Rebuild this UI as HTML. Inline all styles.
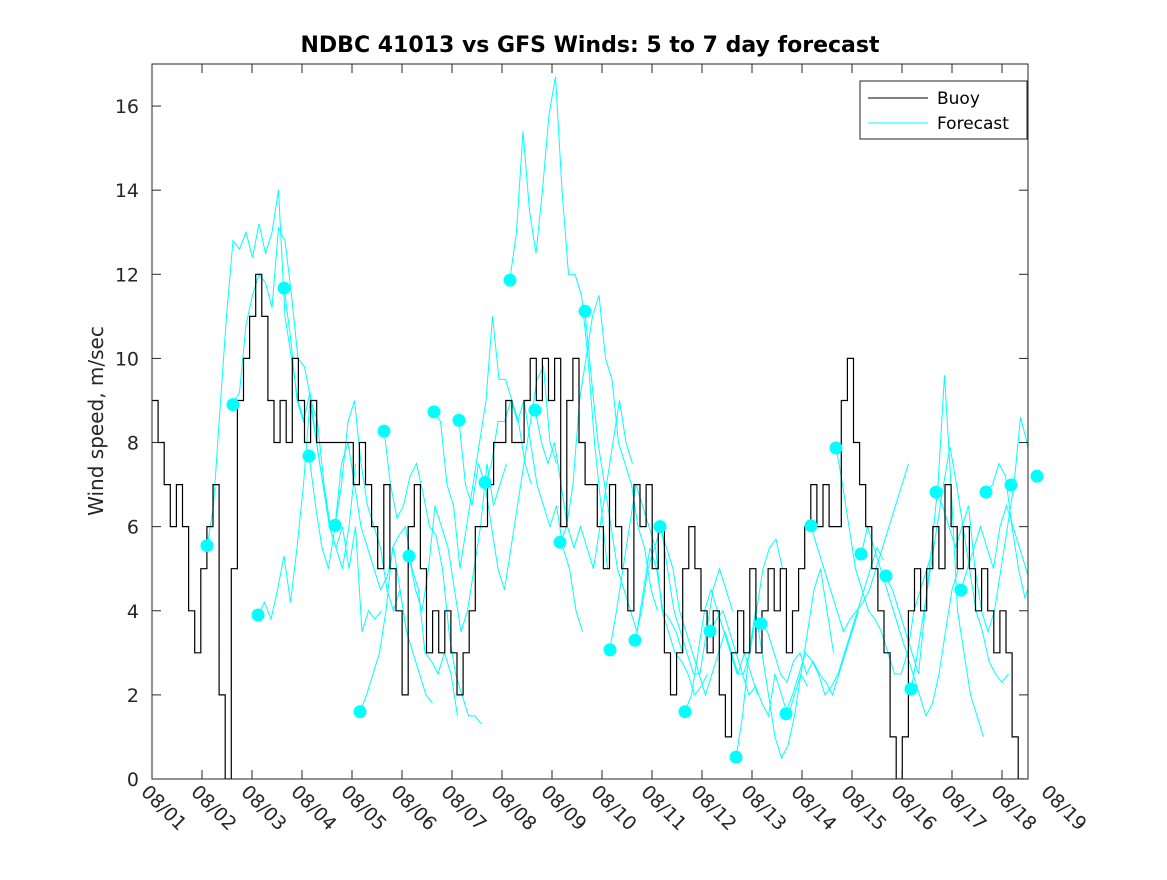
<!DOCTYPE html>
<html><head><meta charset="utf-8"><style>
body{margin:0;background:#fff;}
svg text{font-family:"DejaVu Sans","Liberation Sans",sans-serif;}
</style></head><body>
<svg id="chart" width="1167" height="875" xmlns="http://www.w3.org/2000/svg">
<rect width="1167" height="875" fill="#fff"/>
<defs><clipPath id="pc"><rect x="152" y="64" width="876" height="715"/></clipPath></defs>
<text x="590" y="52" text-anchor="middle" font-size="22" font-weight="bold" fill="#000">NDBC 41013 vs GFS Winds: 5 to 7 day forecast</text>
<text transform="translate(103,421) rotate(-90)" text-anchor="middle" font-size="20" fill="#262626">Wind speed, m/sec</text>
<g id="series" clip-path="url(#pc)"></g>
<g id="dots"></g>
<rect x="152" y="64" width="876" height="715" fill="none" stroke="#262626" stroke-width="1"/>
<g id="axes"></g>
<g>
<rect x="860" y="81" width="167" height="58" fill="#fff" stroke="#262626"/>
<line x1="868" y1="98" x2="928" y2="98" stroke="#000"/>
<text x="937" y="104" font-size="17" fill="#000">Buoy</text>
<line x1="868" y1="123" x2="928" y2="123" stroke="#00ffff"/>
<text x="937" y="129" font-size="17" fill="#000">Forecast</text>
</g>
</svg>
<script>
const xLabels=["08/01","08/02","08/03","08/04","08/05","08/06","08/07","08/08","08/09","08/10","08/11","08/12","08/13","08/14","08/15","08/16","08/17","08/18","08/19"];
const yTicks=[0,2,4,6,8,10,12,14,16];
const buoyStep=0.122;
const buoy=[9,8,7,6,7,6,4,3, 5,6,7,2,0,5,9,10, 11,12,11,9,8,9,8,10, 9,8,9,8,8,8,8,8, 8,7,8,7,6,5,7,5, 4,2,6,7,5,3,4,3, 4,3,2,3,4,6,6,7, 8,8,9,8,8,9,10,9, 10,9,10,6,9,10,8,7, 7,6,5,7,6,5,4,7, 6,7,5,6,3,2,3,5, 6,5,4,3,4,2,1,3, 4,3,5,3,4,5,4,5, 3,4,5,6,7,6,7,6, 6,9,10,8,7,6,5,4, 3,1,0,1,4,5,4,5, 6,5,7,6,5,6,5,4, 5,4,3,4,3,1,0];
const dotDays=[1.1,1.62,2.12,2.64,3.14,3.66,4.16,4.64,5.14,5.64,6.14,6.66,7.16,7.66,8.16,8.66,9.16,9.66,10.16,10.66,11.16,11.68,12.18,12.68,13.18,13.68,14.18,14.68,15.18,15.68,16.18,16.68,17.18,17.7];
const dotVals=[5.55,8.9,3.9,11.67,7.68,6.03,1.6,8.27,5.3,8.73,8.53,7.05,11.86,8.77,5.63,11.12,3.07,3.3,6.0,1.6,3.52,0.52,3.69,1.55,6.02,7.87,5.35,4.83,2.14,6.82,4.49,6.82,6.99,7.2];
const fc=[
[5.5,6.5,8.8,11,12.8,12.6,13,12.4,13.2,12.5,13,14,11,10,9,8.5],
[8.9,9.2,10.8,11.5,12,11.8,11.2,13.1,12.8,11.5,10,9.8,9,8.5,7,6],
[3.9,4.2,3.8,4.5,5.3,4.2,5.5,7,9,8,7,6,5.5,5,6,7.5],
[11.7,10.5,9,8.5,9.2,8,7,6,5.5,6,5,6,3.5,4,3.8,4],
[7.7,6.5,5.5,5,6,7.5,8,7,6,5.5,5,4.5,4.8,5.5,4.5,3.5],
[6,7,8.5,9,7.5,6.5,6,5.5,4.5,4,4.5,3.5,3,2.5,2,1.8],
[1.6,2,2.5,3,4,5.5,5.8,6,5,4.5,3,2.8,2.5,3,2.5,1.5],
[8.3,7,6.2,6.5,7.2,7.5,6.8,6,5.8,5,3.5,2.5,2,1.5,1.5,1.3],
[5.3,4.5,4,5,6.5,6,5.5,4.5,3.5,4,5,6,7.5,6.5,7,7.5],
[8.7,8.5,7,6.5,5,6,7,8,9,11,9.5,9.5,9,8.5,7.5,7],
[8.5,7,6.5,7.5,7,6,5,4.5,5.5,6.5,7.5,8.5,9.5,9.8,8,7.5],
[7,7.5,8.5,8.5,9,8.5,9,8,7,6.5,6,6.5,5.5,5,4,3.5],
[11.9,13,15.4,13.5,12.5,14,15.8,16.7,14,12,12,11.5,10,8,6.5,5],
[8.8,8,7.5,8,7,6,5.5,6,5.5,5,6,7,8,9,8,7.5],
[5.6,6,7,9,10,11,11.5,10,9.5,8,7.5,7,6,5.5,4.5,4],
[11.1,9.5,8,7,6,5,4.5,4,3.5,4.5,5.5,5,4,3.8,3.5,3],
[3.1,4,5,6,7,6.5,6,5.5,4,3.5,3,2.8,2.5,2,2.2,2.5],
[3.3,4,5,5.5,6,5,4,3.5,3,2.5,2.5,3.5,4.5,5,4.5,4],
[6,5.5,5,4,3.5,3,2.5,2,2.5,3,3.5,3,2.5,3,2.5,2],
[1.6,2,3,4,4.5,4,3.5,3,2.5,2.5,3,4,5,5.5,5.7,5],
[3.5,3.8,4,3.5,3,2.5,2,2.2,1.8,1.5,2.5,2,1.5,2,2.5,2.2],
[0.5,1.5,3,4,3,2,1,0.5,0.8,1.5,2.5,3.5,4.5,5,4,3],
[3.7,3.5,3,2.5,2.3,2.8,3,2.5,2.8,2.5,2.3,2,2.5,3,3.5,4],
[1.6,2,2.5,3,2.8,2.5,2,2.2,2.5,3,3.5,4,4.5,5,5.5,5.2],
[6,5.5,5,4.5,4,3.5,3.8,4,4.2,4.5,5,5.5,6,6.5,7,7.5],
[7.9,7,6,5,4.5,4,3.8,3.5,3,2.5,2.5,3,4,4.5,5,5.5],
[5.3,6,5.5,5,4.5,4,3.5,3,2.5,2,1.5,1.8,2.5,3.5,4.5,5],
[4.8,4.5,4,3.5,3,2.5,4,5.5,7,9.6,7,4,3,2,1.5,1],
[2.1,3,4,5,6,7,7.9,7,6,5,4,3.5,2.8,2.5,2.3,2.5],
[6.8,6.5,6,5.5,6,6.5,5,4,3.5,4,5,6,7,8.6,8,7],
[4.5,5,5.5,6,5.5,5,6,6.5,6,5.5,5,4.5,4.5,5,6,5],
[6.8,7,7.5,7.2,6,5,4.3,4.8,5.5,6,6.2,6.5,6,5.5,4,4.5]
];
const fcSpan=1.95;
const NS="http://www.w3.org/2000/svg";
const X=d=>152+d*50;
const Y=v=>779-v*(715/17);
function mk(tag,attrs,parent){const e=document.createElementNS(NS,tag);for(const k in attrs)e.setAttribute(k,attrs[k]);parent.appendChild(e);return e;}
const axes=document.getElementById('axes'),series=document.getElementById('series'),dots=document.getElementById('dots');
yTicks.forEach(v=>{
  const g=mk('g',{},axes);
  
  
  mk('line',{x1:152,x2:161,y1:Y(v),y2:Y(v),stroke:'#262626'},g);
  mk('line',{x1:1019,x2:1028,y1:Y(v),y2:Y(v),stroke:'#262626'},g);
  const t=mk('text',{x:139,y:Y(v)+7,'text-anchor':'end','font-size':19,fill:'#262626'},g);t.textContent=v;
});
xLabels.forEach((s,i)=>{
  const g=mk('g',{},axes);
  
  
  const x=X(i);
  if(x<=1028){
    mk('line',{x1:x,x2:x,y1:779,y2:770,stroke:'#262626'},g);
    mk('line',{x1:x,x2:x,y1:64,y2:73,stroke:'#262626'},g);
  }
  const t=mk('text',{transform:`translate(${x-12},${793}) rotate(45)`,'font-size':19,fill:'#262626'},g);t.textContent=s;
});
fc.forEach((arr,k)=>{
  const st=fcSpan/(arr.length-1);
  const pts=arr.map((v,i)=>X(dotDays[k]+i*st).toFixed(1)+','+Y(v).toFixed(1)).join(' ');
  const p=mk('polyline',{points:pts,fill:'none',stroke:'#00ffff','stroke-width':1},series);
  
  
});
let bp=[];
buoy.forEach((v,i)=>{const x0=X(i*buoyStep),x1=X((i+1)*buoyStep);bp.push(x0.toFixed(1)+','+Y(v).toFixed(1));bp.push(x1.toFixed(1)+','+Y(v).toFixed(1));});
const bl=mk('polyline',{points:bp.join(' '),fill:'none',stroke:'#000','stroke-width':1.2},series);


dotDays.forEach((d,i)=>{
  const c=mk('circle',{cx:X(d),cy:Y(dotVals[i]),r:6.5,fill:'#00ffff'},dots);
  
  
});
</script>
</body></html>
